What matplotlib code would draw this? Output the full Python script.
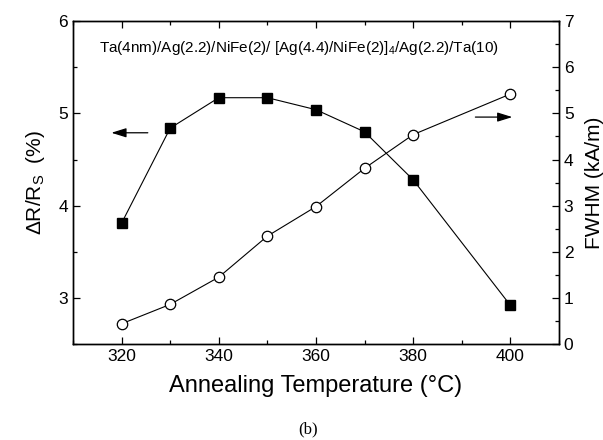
import matplotlib
matplotlib.use('Agg')
import matplotlib.pyplot as plt
from matplotlib.ticker import MultipleLocator

plt.rcParams['font.family'] = ['Liberation Sans', 'DejaVu Sans']
plt.rcParams['mathtext.fontset'] = 'custom'
plt.rcParams['mathtext.rm'] = 'Liberation Sans'
plt.rcParams['mathtext.it'] = 'Liberation Sans'

# annealing temperatures (deg C)
temps = [320, 330, 340, 350, 360, 370, 380, 400]
# GMR ratio dR/Rs (%) - left axis
gmr = [3.81, 4.84, 5.17, 5.17, 5.04, 4.80, 4.28, 2.92]
# FWHM (kA/m) - right axis
fwhm = [0.44, 0.86, 1.45, 2.34, 2.98, 3.81, 4.54, 5.42]

fig = plt.figure(figsize=(6.03, 4.40), dpi=100)
ax = fig.add_axes([0.121, 0.218, 0.806, 0.734])
ax2 = ax.twinx()

ax.plot(temps, gmr, color='black', lw=0.8, marker='s', ms=6.5,
        mfc='black', mec='black')
ax2.plot(temps, fwhm, color='black', lw=0.8, marker='o', ms=7.5,
         mfc='white', mec='black', mew=0.9)

ax.set_xlim(310, 410)
ax.set_ylim(2.5, 6)
ax2.set_ylim(0, 7)

ax.xaxis.set_major_locator(MultipleLocator(20))
ax.xaxis.set_minor_locator(MultipleLocator(10))
ax.yaxis.set_major_locator(MultipleLocator(1))
ax.yaxis.set_minor_locator(MultipleLocator(0.5))
ax2.yaxis.set_major_locator(MultipleLocator(1))
ax2.yaxis.set_minor_locator(MultipleLocator(0.5))

ax.tick_params(which='both', direction='in', top=True, labelsize=12.5, width=0.9)
ax.tick_params(which='major', length=5)
ax.tick_params(which='minor', length=3)
ax2.tick_params(which='both', direction='in', labelsize=12.5, width=0.9)
ax2.tick_params(which='major', length=5)
ax2.tick_params(which='minor', length=3)
for a in (ax, ax2):
    for s in a.spines.values():
        s.set_linewidth(1.0)

ax.set_xlabel('Annealing Temperature (\u00b0C)', fontsize=17, labelpad=8)
ax.set_ylabel(r'$\Delta$R/R$_\mathrm{S}$  (%)', fontsize=15, labelpad=8)
ax2.set_ylabel('FWHM (kA/m)', fontsize=15, labelpad=8)

ax.text(0.053, 0.916, r'Ta(4nm)/Ag(2.2)/NiFe(2)/ [Ag(4.4)/NiFe(2)]$_4$/Ag(2.2)/Ta(10)',
        transform=ax.transAxes, fontsize=11, va='center', ha='left')

# arrows pointing to the relevant axis
arrow = dict(arrowstyle='-|>,head_length=0.9,head_width=0.28', color='black',
             lw=0.9, mutation_scale=10, shrinkA=0, shrinkB=0)
ax.annotate('', xy=(317.9, 4.79), xytext=(325.4, 4.79), arrowprops=arrow)
ax2.annotate('', xy=(400.4, 4.92), xytext=(392.8, 4.92), arrowprops=arrow)

fig.text(0.511, 0.023, '(b)', family='Liberation Serif', fontsize=12,
         ha='center', va='center')

fig.savefig('out.png', dpi=100)
